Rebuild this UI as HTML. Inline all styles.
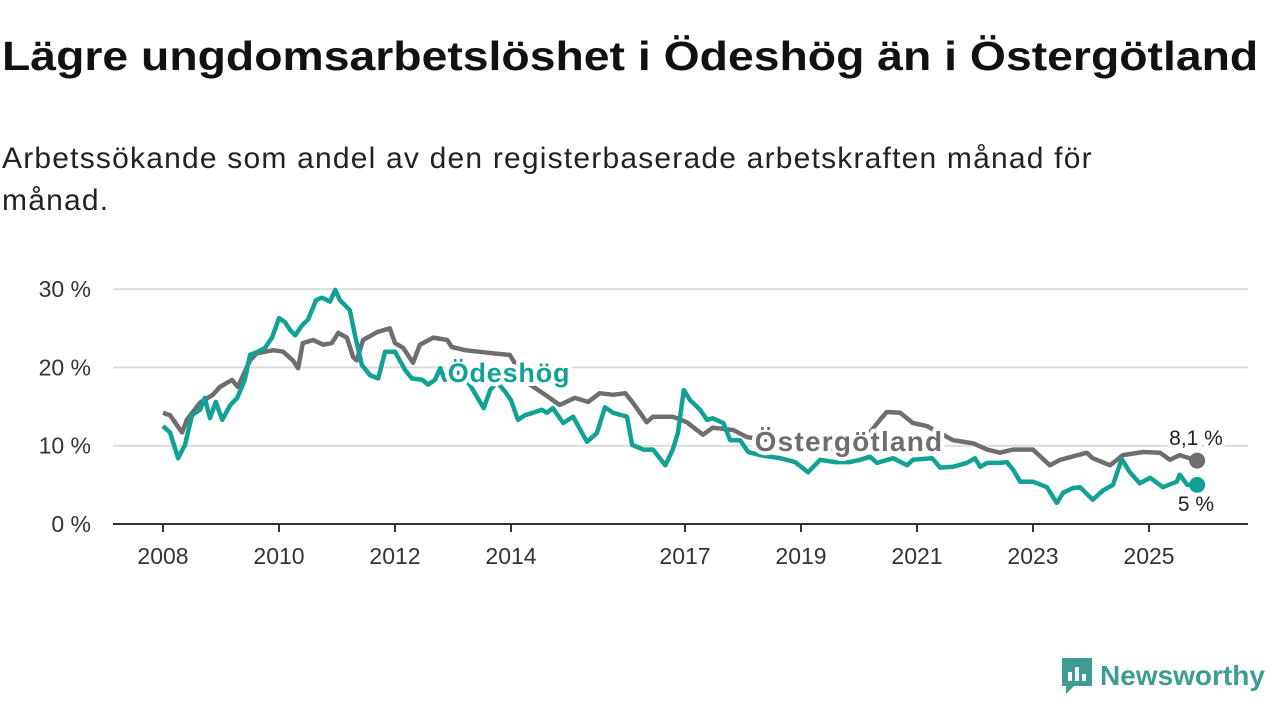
<!DOCTYPE html>
<html><head><meta charset="utf-8">
<style>
body{margin:0;width:1280px;height:720px;background:#fff;font-family:"Liberation Sans",sans-serif;overflow:hidden;position:relative}
h1{position:absolute;left:2px;top:33px;margin:0;font-size:41px;font-weight:bold;color:#111;white-space:nowrap;transform:scaleX(1.13);transform-origin:left top}
.sub{position:absolute;left:2px;top:138px;margin:0;font-size:30px;line-height:42px;color:#222;width:1170px;letter-spacing:1.2px}
svg{position:absolute;left:0;top:0}
</style></head><body>
<h1>Lägre ungdomsarbetslöshet i Ödeshög än i Östergötland</h1>
<p class="sub">Arbetssökande som andel av den registerbaserade arbetskraften månad för månad.</p>
<svg id="chart" width="1280" height="720"></svg>
<div style="position:absolute;left:1060px;top:656px;display:flex;align-items:center">
<svg width="34" height="40" viewBox="0 0 34 40" style="position:static"><path d="M2 2h30v28H14l-8 8v-8H2z" fill="#3d9c94"/><rect x="8" y="16" width="4" height="9" fill="#fff"/><rect x="15" y="11" width="4" height="14" fill="#fff"/><rect x="22" y="18" width="4" height="7" fill="#fff"/></svg>
<span style="font-size:28px;font-weight:bold;color:#3d9c94;margin-left:6px">Newsworthy</span></div>
<script>
const odYears=[2008.00,2008.12,2008.26,2008.38,2008.50,2008.64,2008.72,2008.81,2008.91,2009.02,2009.16,2009.28,2009.41,2009.50,2009.64,2009.76,2009.88,2010.00,2010.10,2010.19,2010.28,2010.40,2010.50,2010.64,2010.74,2010.88,2010.97,2011.05,2011.22,2011.31,2011.43,2011.57,2011.71,2011.83,2012.00,2012.17,2012.29,2012.47,2012.57,2012.69,2012.78,2012.86,2013.03,2013.29,2013.53,2013.64,2013.76,2013.90,2014.00,2014.12,2014.24,2014.38,2014.53,2014.62,2014.72,2014.90,2015.07,2015.31,2015.48,2015.62,2015.76,2016.00,2016.09,2016.28,2016.45,2016.66,2016.79,2016.88,2016.98,2017.09,2017.26,2017.38,2017.48,2017.66,2017.78,2017.95,2018.09,2018.29,2018.64,2018.90,2019.12,2019.33,2019.59,2019.84,2020.02,2020.19,2020.31,2020.59,2020.83,2020.93,2021.26,2021.40,2021.62,2021.86,2022.00,2022.09,2022.21,2022.43,2022.55,2022.66,2022.78,2023.00,2023.24,2023.41,2023.52,2023.69,2023.81,2024.03,2024.21,2024.38,2024.53,2024.67,2024.84,2025.02,2025.24,2025.48,2025.53,2025.66,2025.83];
const odValues=[12.5,11.7,8.4,10.1,13.9,14.6,16.1,13.5,15.6,13.3,15.2,16.1,18.4,21.6,22.0,22.5,23.8,26.3,25.8,24.8,24.1,25.4,26.1,28.6,28.9,28.4,29.9,28.6,27.3,24.1,20.3,19.0,18.6,22.0,22.0,19.7,18.6,18.4,17.8,18.4,19.9,18.4,19.7,17.8,14.8,17.1,18.1,16.9,15.8,13.3,13.9,14.2,14.6,14.2,14.8,12.9,13.7,10.5,11.6,14.9,14.2,13.7,10.1,9.5,9.5,7.5,9.5,11.7,17.1,15.8,14.6,13.3,13.5,12.9,10.7,10.7,9.2,8.8,8.4,7.9,6.6,8.2,7.9,7.9,8.2,8.6,7.8,8.4,7.5,8.2,8.4,7.2,7.3,7.8,8.4,7.3,7.8,7.8,7.9,6.9,5.4,5.4,4.7,2.7,4.0,4.6,4.7,3.1,4.3,5.0,8.3,6.6,5.2,5.9,4.7,5.4,6.3,5.0,5.0];
const ogYears=[2008.00,2008.12,2008.33,2008.41,2008.64,2008.86,2008.98,2009.19,2009.29,2009.50,2009.62,2009.90,2010.07,2010.24,2010.33,2010.41,2010.59,2010.76,2010.91,2011.02,2011.17,2011.28,2011.34,2011.45,2011.69,2011.91,2012.00,2012.14,2012.31,2012.43,2012.66,2012.90,2012.98,2013.21,2013.69,2013.98,2014.16,2014.33,2014.59,2014.84,2015.10,2015.33,2015.53,2015.76,2015.97,2016.10,2016.34,2016.45,2016.79,2017.03,2017.31,2017.48,2017.83,2018.07,2018.47,2018.90,2019.50,2020.02,2020.19,2020.36,2020.48,2020.71,2020.93,2021.17,2021.62,2021.97,2022.21,2022.43,2022.66,2023.00,2023.29,2023.47,2023.93,2024.03,2024.33,2024.55,2024.90,2025.19,2025.36,2025.53,2025.83];
const ogValues=[14.2,13.9,11.7,13.3,15.5,16.5,17.5,18.4,17.5,20.9,21.8,22.2,22.0,20.9,19.9,23.1,23.5,22.9,23.1,24.4,23.8,21.3,20.9,23.5,24.5,25.0,23.1,22.5,20.6,22.9,23.8,23.5,22.6,22.2,21.8,21.6,19.4,17.8,16.5,15.2,16.1,15.6,16.7,16.5,16.7,15.5,13.0,13.7,13.7,13.0,11.4,12.3,12.0,11.1,10.7,10.1,9.5,10.7,11.7,13.3,14.3,14.2,12.9,12.5,10.7,10.3,9.5,9.1,9.5,9.5,7.5,8.2,9.1,8.4,7.5,8.8,9.2,9.1,8.2,8.8,8.1];
const xTicks=[2008,2010,2012,2014,2017,2019,2021,2023,2025];
const yTicks=[0,10,20,30];
const NS='http://www.w3.org/2000/svg';
const svg=document.getElementById('chart');
const X=y=>163+(y-2008)*58;
const Y=v=>524-v*7.83;
function mk(tag,attrs,parent){const e=document.createElementNS(NS,tag);for(const k in attrs)e.setAttribute(k,attrs[k]);(parent||svg).appendChild(e);return e;}
yTicks.forEach(t=>{
  if(t>0){const g=mk('line',{x1:113,x2:1248,y1:Y(t),y2:Y(t),stroke:'#dcdcdc','stroke-width':2});
  
  }
  const l=mk('text',{x:91,y:Y(t)+8,'text-anchor':'end','font-size':23,fill:'#333','font-family':'Liberation Sans, sans-serif'});
  l.textContent=t+' %';
  
  
});
const ax=mk('line',{x1:113,x2:1248,y1:524,y2:524,stroke:'#333','stroke-width':2});


xTicks.forEach(t=>{
  const tk=mk('line',{x1:X(t),x2:X(t),y1:524,y2:532,stroke:'#333','stroke-width':2});
  
  
  const l=mk('text',{x:X(t),y:564,'text-anchor':'middle','font-size':23,fill:'#333','font-family':'Liberation Sans, sans-serif'});
  l.textContent=t;
  
  
});
function line(ys,vs,color,name){
  const d=ys.map((y,i)=>(i?'L':'M')+X(y).toFixed(1)+' '+Y(vs[i]).toFixed(1)).join(' ');
  const p=mk('path',{d:d,fill:'none',stroke:color,'stroke-width':4.5,'stroke-linejoin':'round'});
  
  
  const n=ys.length-1;
  const c=mk('circle',{cx:X(ys[n]),cy:Y(vs[n]),r:8,fill:color});
  
  
}
line(ogYears,ogValues,'#6f6d70','ostergotland-line');
line(odYears,odValues,'#12a195','odeshog-line');
function label(txt,x,y,color,size,bold,anchor,name,ls){
  const t=mk('text',{x:x,y:y,'text-anchor':anchor,'font-size':size,'font-weight':bold?'bold':'normal',fill:color,stroke:'#fff','stroke-width':8,'stroke-linejoin':'round','paint-order':'stroke','letter-spacing':ls||0,'font-family':'Liberation Sans, sans-serif'});
  t.textContent=txt;
  
  
}
label('Ödeshög',509,382,'#12a195',27,true,'middle','odeshog-label',0.8);
label('Östergötland',849,451,'#6f6d70',28,true,'middle','ostergotland-label',1.2);
label('8,1 %',1196,445,'#222',21,false,'middle','ostergotland-end-value');
label('5 %',1196,511,'#222',21,false,'middle','odeshog-end-value');
</script>
</body></html>
